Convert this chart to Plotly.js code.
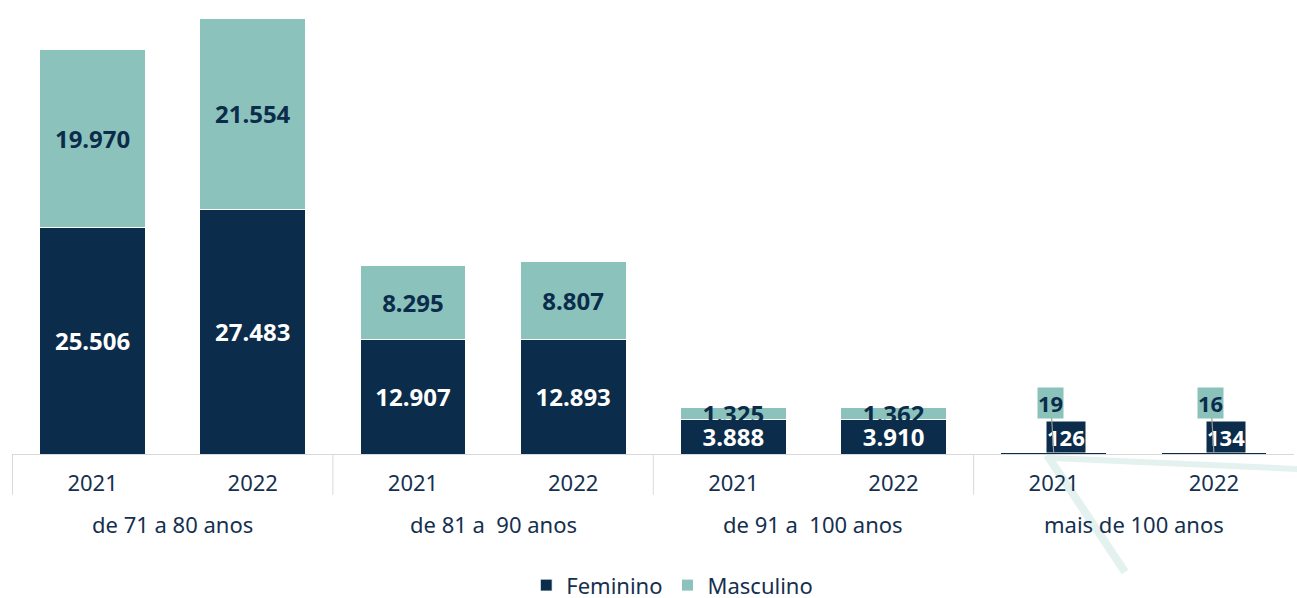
<!DOCTYPE html>
<html>
<head>
<meta charset="utf-8">
<script src="https://cdn.plot.ly/plotly-3.0.1.min.js"></script>
<style>html,body{margin:0;padding:0;background:#fff;}#chart{width:1297px;height:598px;}</style>
</head>
<body>
<div id="chart"></div>
<script>
const groups = ["de 71 a 80 anos","de 71 a 80 anos","de 81 a  90 anos","de 81 a  90 anos","de 91 a  100 anos","de 91 a  100 anos","mais de 100 anos","mais de 100 anos"];
const years = ["2021","2022","2021","2022","2021","2022","2021","2022"];
const feminino = [25506, 27483, 12907, 12893, 3888, 3910, 126, 134];
const masculino = [19970, 21554, 8295, 8807, 1325, 1362, 19, 16];
const smallGroup = "mais de 100 anos";

const NAVY = "#0b2c4a", TEAL = "#8bc3bc", TXT = "#15304f", GRID = "#d9d9d9";
const FONT = "Noto Sans, sans-serif";

function fmt(v){ return String(v).replace(/\B(?=(\d{3})+(?!\d))/g, "."); }
const inBar = (vals) => vals.map((v,i) => groups[i] === smallGroup ? "" : fmt(v));
const keys = groups.map((g,i) => g + "|" + years[i]);

const traces = [
  {type:"bar", name:"Feminino", x:keys, y:feminino, text:inBar(feminino),
   textposition:"inside", insidetextanchor:"middle", textangle:0,
   textfont:{family:FONT, size:24, color:"#ffffff", weight:"bold"},
   marker:{color:NAVY, line:{color:"#ffffff", width:1}}, hoverinfo:"none"},
  {type:"bar", name:"Masculino", x:keys, y:masculino, text:inBar(masculino),
   textposition:"inside", insidetextanchor:"middle", textangle:0,
   textfont:{family:FONT, size:24, color:NAVY, weight:"bold"},
   marker:{color:TEAL, line:{color:"#ffffff", width:1}}, hoverinfo:"none"}
];

const annotations = [];
const shapes = [];
const uniq = [...new Set(groups)];
uniq.forEach(g => {
  const first = groups.indexOf(g), last = groups.lastIndexOf(g);
  annotations.push({x:(first+last)/2, xref:"x", y:-0.154, yref:"paper", text:g.replace(/  /g, "&nbsp; "),
    showarrow:false, yanchor:"middle", font:{family:FONT, size:22, color:TXT}});
  shapes.push({type:"line", xref:"x", yref:"paper", x0:first-0.5, x1:first-0.5, y0:0, y1:-0.09,
    line:{color:GRID, width:1}});
});

groups.forEach((g,i) => {
  if (g !== smallGroup) return;
  annotations.push({x:i, y:0, xref:"x", yref:"y", text:"<b>"+fmt(feminino[i])+"</b>",
    showarrow:false, yanchor:"bottom", yshift:1, xshift:12,
    font:{family:FONT, size:22, color:"#ffffff"}, bgcolor:NAVY, borderpad:0});
  annotations.push({x:i, y:feminino[i]+masculino[i], xref:"x", yref:"y", text:"<b>"+fmt(masculino[i])+"</b>",
    showarrow:true, arrowhead:0, arrowwidth:1.2, arrowcolor:"#9a9a9a", ax:-3, ay:-50,
    font:{family:FONT, size:22, color:NAVY}, bgcolor:TEAL, borderpad:0, standoff:0});
});

shapes.push(
  {type:"line", xref:"paper", yref:"paper", x0:0.8073, y0:-0.002, x1:0.8682, y1:-0.26, line:{color:"#e4f2ef", width:8}, layer:"below"},
  {type:"line", xref:"paper", yref:"paper", x0:0.8097, y0:-0.009, x1:1.003, y1:-0.033, line:{color:"#e4f2ef", width:6}, layer:"below"}
);

const layout = {
  width:1297, height:598,
  margin:{l:12, r:3, t:0, b:144, autoexpand:false},
  paper_bgcolor:"#ffffff", plot_bgcolor:"#ffffff",
  barmode:"stack", bargap:0.34,
  uniformtext:{mode:"show", minsize:22},
  font:{family:FONT, color:TXT, size:22},
  xaxis:{type:"category", showline:true, linecolor:GRID, linewidth:1,
    tickmode:"array", tickvals:keys, ticktext:years, ticklabelstandoff:10,
    tickfont:{family:FONT, size:22, color:TXT}, ticks:"", showgrid:false, fixedrange:true},
  yaxis:{range:[0, 51062], visible:false, showgrid:false, zeroline:false, fixedrange:true},
  showlegend:true,
  legend:{orientation:"h", x:0.515, xanchor:"center", xref:"paper", yref:"paper", y:-0.243, yanchor:"top",
    font:{family:FONT, size:22, color:TXT}, itemwidth:30, traceorder:"normal", tracegroupgap:0},
  annotations:annotations,
  shapes:shapes
};

Plotly.newPlot("chart", traces, layout, {staticPlot:true, displayModeBar:false});
</script>
</body>
</html>
